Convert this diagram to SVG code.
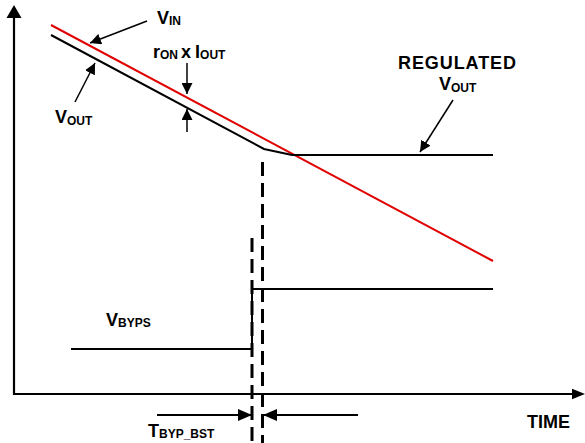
<svg xmlns="http://www.w3.org/2000/svg" width="585" height="443" viewBox="0 0 585 443">
<style>
text{font-family:"Liberation Sans",Arial,sans-serif;font-weight:bold;fill:#000}
.m{font-size:18px}
.s{font-size:12px}
.ax{stroke:#000;stroke-width:2.2;fill:none}
.ln{stroke:#000;stroke-width:2;fill:none}
.red{stroke:#e00000;stroke-width:2;fill:none}
.dash{stroke:#000;stroke-width:3;fill:none;stroke-dasharray:14 7}
.lead{stroke:#000;stroke-width:1.5;fill:none;marker-end:url(#ah)}
.dim{stroke:#000;stroke-width:1.8;fill:none;marker-end:url(#dh)}
</style>
<defs>
<marker id="ah" markerUnits="userSpaceOnUse" markerWidth="12" markerHeight="11" refX="11" refY="5.5" orient="auto"><path d="M0,0 L11,5.5 L0,11 z" fill="#000"/></marker>
<marker id="dh" markerUnits="userSpaceOnUse" markerWidth="15" markerHeight="12" refX="14" refY="6" orient="auto"><path d="M0,0 L14,6 L0,12 z" fill="#000"/></marker>
</defs>

<g id="axes">
<path class="ax" d="M14,17 L14,394 L573,394"/>
<polygon points="14,5 6.5,18 21.5,18" fill="#000"/>
<polygon points="585,394 572,388.7 572,399.3" fill="#000"/>
</g>

<g id="vin-curve"><path class="red" d="M51,25 L493,261"/></g>
<g id="vout-curve"><path class="ln" d="M51,35 L264,149 L292,155 L493,155"/></g>
<g id="vbyps-curve"><path class="ln" d="M71,349 L252,349 L252,289 L493,289"/></g>

<g id="markers">
<path class="dash" d="M262.5,162 L262.5,443"/>
<path class="dash" d="M252,238 L252,443"/>
</g>

<g id="connectors">
<path class="lead" d="M147,21 L90,43"/>
<path class="lead" d="M75,102 L95,63"/>
<path class="lead" d="M453,100 L420,152"/>
<path class="lead" d="M187,63 L187,94"/>
<path class="lead" d="M187,132 L187,109"/>
<path class="dim" d="M157,415 L252,415"/>
<path class="dim" d="M358,415 L263,415"/>
</g>

<g id="label-vin"><text x="157" y="24" class="m">V<tspan class="s" dy="1">IN</tspan></text></g>
<g id="label-ron"><text x="153" y="58" class="m">r<tspan class="s" dy="1">ON</tspan><tspan dy="-1" dx="3">x</tspan><tspan dx="4">I</tspan><tspan class="s" dy="1">OUT</tspan></text></g>
<g id="label-vout"><text x="55" y="123" class="m">V<tspan class="s" dy="2">OUT</tspan></text></g>
<g id="label-regulated">
<text x="398" y="69" class="m" textLength="118">REGULATED</text>
<text x="439" y="90" class="m">V<tspan class="s" dy="2">OUT</tspan></text>
</g>
<g id="label-vbyps"><text x="106" y="326" class="m">V<tspan class="s" dy="1">BYPS</tspan></text></g>
<g id="label-tbyp"><text x="148" y="437" class="m">T<tspan class="s" dy="1">BYP_BST</tspan></text></g>
<g id="label-time"><text x="527" y="428" class="m" textLength="43">TIME</text></g>
</svg>
